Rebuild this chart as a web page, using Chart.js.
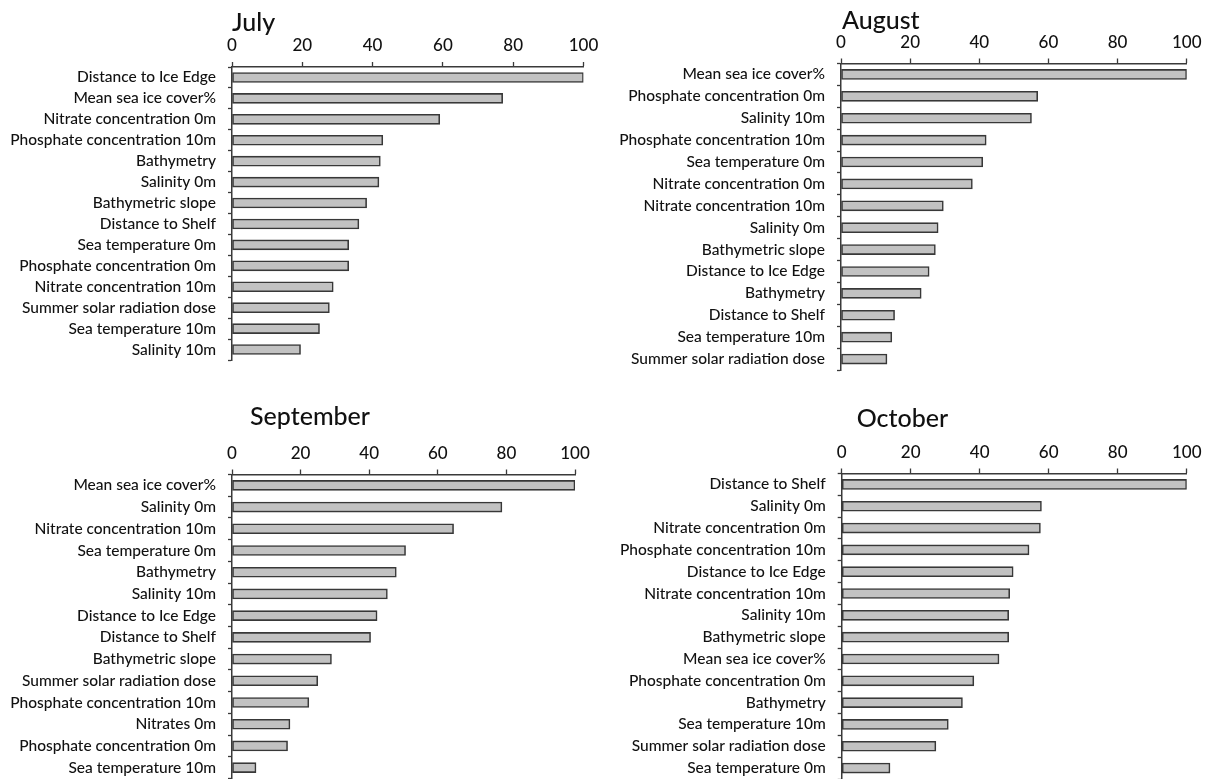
<!DOCTYPE html>
<html>
<head>
<meta charset="utf-8">
<script src="https://cdn.jsdelivr.net/npm/chart.js@4/dist/chart.umd.min.js"></script>
<style>
  html, body { margin: 0; padding: 0; background: #ffffff; }
  #stage { position: relative; width: 1214px; height: 779px; overflow: hidden; background: #ffffff; }
  #stage canvas { position: absolute; }
</style>
</head>
<body>
<div id="stage">
  <canvas id="july"></canvas>
  <canvas id="august"></canvas>
  <canvas id="september"></canvas>
  <canvas id="october"></canvas>
</div>
<script>
// Relative variable importance (%) per month
const julyLabels = ['Distance to Ice Edge', 'Mean sea ice cover%', 'Nitrate concentration 0m', 'Phosphate concentration 10m', 'Bathymetry', 'Salinity 0m', 'Bathymetric slope', 'Distance to Shelf', 'Sea temperature 0m', 'Phosphate concentration 0m', 'Nitrate concentration 10m', 'Summer solar radiation dose', 'Sea temperature 10m', 'Salinity 10m'];
const julyValues = [100, 77.0, 59.1, 42.9, 42.2, 41.8, 38.3, 36.1, 33.2, 33.2, 28.8, 27.7, 24.9, 19.5];

const augustLabels = ['Mean sea ice cover%', 'Phosphate concentration 0m', 'Salinity 10m', 'Phosphate concentration 10m', 'Sea temperature 0m', 'Nitrate concentration 0m', 'Nitrate concentration 10m', 'Salinity 0m', 'Bathymetric slope', 'Distance to Ice Edge', 'Bathymetry', 'Distance to Shelf', 'Sea temperature 10m', 'Summer solar radiation dose'];
const augustValues = [100, 56.9, 55.1, 42.0, 41.0, 38.0, 29.6, 28.1, 27.3, 25.5, 23.2, 15.5, 14.7, 13.3];

const septemberLabels = ['Mean sea ice cover%', 'Salinity 0m', 'Nitrate concentration 10m', 'Sea temperature 0m', 'Bathymetry', 'Salinity 10m', 'Distance to Ice Edge', 'Distance to Shelf', 'Bathymetric slope', 'Summer solar radiation dose', 'Phosphate concentration 10m', 'Nitrates 0m', 'Phosphate concentration 0m', 'Sea temperature 10m'];
const septemberValues = [100, 78.7, 64.6, 50.6, 47.9, 45.3, 42.3, 40.4, 29.0, 25.0, 22.4, 16.9, 16.2, 7.0];

const octoberLabels = ['Distance to Shelf', 'Salinity 0m', 'Nitrate concentration 0m', 'Phosphate concentration 10m', 'Distance to Ice Edge', 'Nitrate concentration 10m', 'Salinity 10m', 'Bathymetric slope', 'Mean sea ice cover%', 'Phosphate concentration 0m', 'Bathymetry', 'Sea temperature 10m', 'Summer solar radiation dose', 'Sea temperature 0m'];
const octoberValues = [100, 57.9, 57.6, 54.3, 49.7, 48.7, 48.4, 48.4, 45.6, 38.3, 35.0, 30.9, 27.3, 14.0];

const axisMin = 0;
const axisMax = 100;
const axisStep = 20;

// Panel title drawn just above the value axis, offset from the plot's left edge
const panelTitle = {
  id: 'panelTitle',
  afterDraw(chart, args, opts) {
    const ctx = chart.ctx;
    ctx.save();
    ctx.font = opts.font;
    ctx.fillStyle = opts.color;
    ctx.textAlign = 'left';
    ctx.textBaseline = 'alphabetic';
    ctx.fillText(opts.text, chart.chartArea.left + opts.dx, opts.y);
    ctx.restore();
  }
};

const INK = '#111111';
const LINE = '#3a3a3a';
const FONT = 'Lato, "Open Sans", sans-serif';

// Keep the plot rectangle fixed: drop the extra edge padding the axes ask for
function noEdgePadding(scale) {
  scale.paddingTop = 0;
  scale.paddingBottom = 0;
  scale.paddingLeft = 0;
  scale.paddingRight = 0;
}

function makePanel(id, title, labels, values, box) {
  const canvas = document.getElementById(id);
  canvas.width = box.w;
  canvas.height = box.h;
  canvas.style.left = box.x + 'px';
  canvas.style.top = box.y + 'px';
  canvas.style.width = box.w + 'px';
  canvas.style.height = box.h + 'px';

  return new Chart(canvas, {
    type: 'bar',
    data: {
      labels: labels,
      datasets: [{
        data: values,
        backgroundColor: '#c2c2c2',
        borderColor: '#383838',
        borderWidth: 1.6,
        borderSkipped: false,
        barThickness: 10
      }]
    },
    plugins: [panelTitle],
    options: {
      indexAxis: 'y',
      responsive: false,
      animation: false,
      devicePixelRatio: 1,
      layout: {
        padding: { left: 0, top: 0, right: box.w - box.right, bottom: box.h - box.bottom }
      },
      plugins: {
        legend: { display: false },
        tooltip: { enabled: false },
        panelTitle: {
          text: title,
          dx: box.titleDx,
          y: box.titleY,
          font: '500 25px ' + FONT,
          color: INK
        }
      },
      scales: {
        x: {
          position: 'top',
          min: axisMin,
          max: axisMax,
          afterFit(scale) { scale.height = box.top; noEdgePadding(scale); },
          ticks: {
            stepSize: axisStep,
            color: INK,
            padding: 6,
            maxRotation: 0,
            font: { family: FONT, size: 17, weight: 500 }
          },
          grid: {
            drawOnChartArea: false,
            drawTicks: true,
            tickLength: 5,
            tickWidth: 1.3,
            tickColor: LINE
          },
          border: { display: true, color: LINE, width: 1.5 }
        },
        y: {
          position: 'left',
          afterFit(scale) { scale.width = box.left; noEdgePadding(scale); },
          ticks: {
            color: INK,
            padding: 12,
            autoSkip: false,
            font: { family: FONT, size: 15.5, weight: 500 }
          },
          grid: {
            offset: true,
            drawOnChartArea: false,
            drawTicks: true,
            tickLength: 4,
            tickWidth: 1.3,
            tickColor: LINE
          },
          border: { display: true, color: LINE, width: 1.5 }
        }
      }
    }
  });
}

makePanel('july', 'July', julyLabels, julyValues,
  { x: 0, y: 0, w: 600, h: 380, left: 232, right: 583.5, top: 67, bottom: 360, titleDx: 0, titleY: 31 });
makePanel('august', 'August', augustLabels, augustValues,
  { x: 600, y: 0, w: 614, h: 380, left: 241, right: 586.7, top: 63.5, bottom: 370, titleDx: 1, titleY: 29 });
makePanel('september', 'September', septemberLabels, septemberValues,
  { x: 0, y: 380, w: 600, h: 399, left: 232, right: 575, top: 94.5, bottom: 398.5, titleDx: 18, titleY: 45 });
makePanel('october', 'October', octoberLabels, octoberValues,
  { x: 600, y: 380, w: 614, h: 399, left: 241.7, right: 586.7, top: 93.5, bottom: 399.5, titleDx: 15, titleY: 46.5 });
</script>
</body>
</html>
